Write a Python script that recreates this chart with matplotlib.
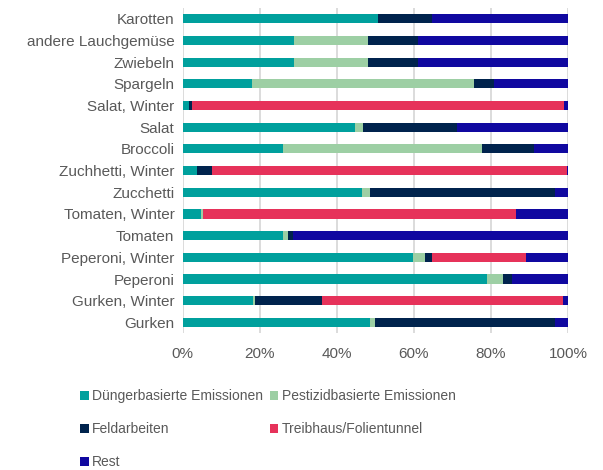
import matplotlib
matplotlib.use("Agg")
import matplotlib.pyplot as plt
import numpy as np

plt.rcParams['font.family'] = ['Liberation Sans', 'DejaVu Sans']

categories = ["Karotten", "andere Lauchgemüse", "Zwiebeln", "Spargeln", "Salat, Winter",
              "Salat", "Broccoli", "Zuchhetti, Winter", "Zucchetti", "Tomaten, Winter",
              "Tomaten", "Peperoni, Winter", "Peperoni", "Gurken, Winter", "Gurken"]

duenger   = [50.7, 28.9, 28.9, 18.0, 1.6, 44.8, 25.9, 3.8, 46.5, 4.75, 25.9, 59.7, 79.0, 18.2, 48.6]
pestizid  = [0.0, 19.2, 19.2, 57.6, 0.0, 2.0, 51.7, 0.0, 2.1, 0.5, 1.5, 3.1, 4.1, 0.5, 1.3]
feld      = [13.9, 13.0, 13.0, 5.2, 0.8, 24.4, 13.6, 3.9, 47.9, 0.0, 1.3, 1.9, 2.4, 17.5, 46.6]
treibhaus = [0.0, 0.0, 0.0, 0.0, 96.6, 0.0, 0.0, 92.1, 0.0, 81.3, 0.0, 24.3, 0.0, 62.5, 0.0]
rest      = [35.4, 38.9, 38.9, 19.2, 1.0, 28.8, 8.8, 0.2, 3.5, 13.45, 71.3, 11.0, 14.5, 1.3, 3.5]

series_names = ["Düngerbasierte Emissionen", "Pestizidbasierte Emissionen",
                "Feldarbeiten", "Treibhaus/Folientunnel", "Rest"]
colors = ["#00A09D", "#9DCFA4", "#00234D", "#E6325A", "#1008A0"]
xticklabels = ["0%", "20%", "40%", "60%", "80%", "100%"]

series = [duenger, pestizid, feld, treibhaus, rest]

fig = plt.figure(figsize=(6.03, 4.70), dpi=100)
ax = fig.add_axes([0.303, 0.291, 0.639, 0.692])

y = np.arange(len(categories))
left = np.zeros(len(categories))
handles = []
for name, vals, c in zip(series_names, series, colors):
    vals = np.array(vals)
    b = ax.barh(y, vals, left=left, height=0.42, color=c, label=name, zorder=3)
    handles.append(b)
    left += vals

ax.set_xlim(0, 100)
ax.set_ylim(len(categories) - 0.5, -0.5)
ax.set_yticks(y)
ax.set_yticklabels(categories, fontsize=11, color="#595959")
ax.set_xticks([0, 20, 40, 60, 80, 100])
ax.set_xticklabels(xticklabels, fontsize=11, color="#595959")
ax.tick_params(axis='both', length=0)
ax.tick_params(axis='x', pad=10)
ax.tick_params(axis='y', pad=6)
for s in ax.spines.values():
    s.set_visible(False)
ax.grid(axis='x', color="#D9D9D9", linewidth=1.3, zorder=0)
ax.set_axisbelow(True)

# row-wise legend order for a 2-column legend
order = [0, 2, 4, 1, 3]
leg = fig.legend(handles=[handles[i] for i in order],
                 labels=[series_names[i] for i in order], loc='upper left',
                 bbox_to_anchor=(0.133, 0.172), ncol=2, frameon=False,
                 fontsize=10, handlelength=0.6, handleheight=0.6, handletextpad=0.25,
                 columnspacing=0.5, labelspacing=1.38, borderaxespad=0, borderpad=0)
for t in leg.get_texts():
    t.set_color("#595959")

fig.savefig("out.png", dpi=100)
